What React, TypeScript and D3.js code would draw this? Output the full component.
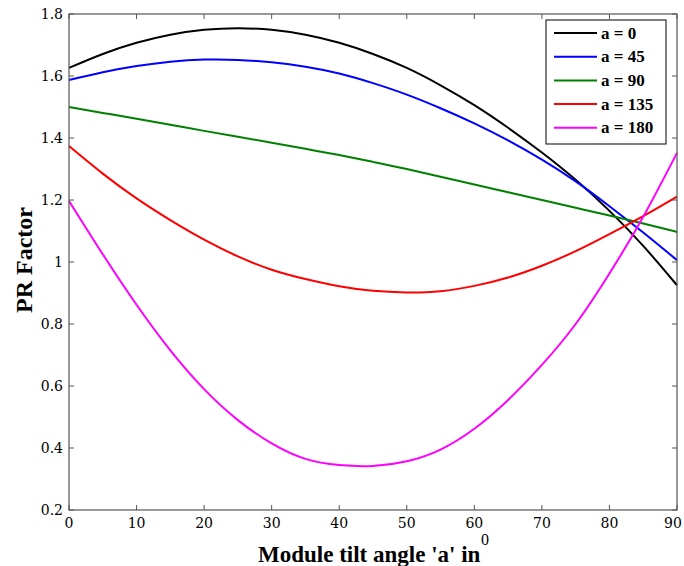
import React from "react";
import * as d3 from "d3";

const xAngles = [0, 5, 10, 15, 20, 25, 30, 35, 40, 45, 50, 55, 60, 65, 70, 75, 80, 85, 90];
const a0 = [1.626, 1.671, 1.707, 1.733, 1.749, 1.754, 1.749, 1.733, 1.707, 1.671, 1.626, 1.57, 1.506, 1.433, 1.353, 1.265, 1.165, 1.052, 0.925];
const a45 = [1.587, 1.612, 1.632, 1.646, 1.653, 1.652, 1.644, 1.63, 1.608, 1.577, 1.54, 1.496, 1.447, 1.392, 1.33, 1.26, 1.18, 1.095, 1.006];
const a90 = [1.5, 1.481, 1.462, 1.443, 1.423, 1.404, 1.385, 1.365, 1.345, 1.323, 1.3, 1.275, 1.25, 1.225, 1.2, 1.175, 1.15, 1.124, 1.097];
const a135 = [1.374, 1.285, 1.205, 1.135, 1.072, 1.018, 0.975, 0.945, 0.922, 0.907, 0.902, 0.906, 0.923, 0.95, 0.988, 1.035, 1.09, 1.148, 1.211];
const a180 = [1.197, 1.025, 0.862, 0.715, 0.59, 0.49, 0.415, 0.365, 0.345, 0.342, 0.357, 0.395, 0.462, 0.555, 0.668, 0.8, 0.963, 1.146, 1.352];

const seriesNames = ["a = 0", "a = 45", "a = 90", "a = 135", "a = 180"];
const seriesColors = ["#000000", "#0000ff", "#008000", "#ff0000", "#ff00ff"];
const seriesValues = [a0, a45, a90, a135, a180];

const xTicks = [0, 10, 20, 30, 40, 50, 60, 70, 80, 90];
const yTicks = [0.2, 0.4, 0.6, 0.8, 1, 1.2, 1.4, 1.6, 1.8];

const W = 684;
const H = 566;
const L = 69, R = 677, T = 14, B = 510;
const serif = "'Liberation Serif', 'DejaVu Serif', serif";
const tickFont = "'DejaVu Serif', serif";

export default function App() {
  const x = d3.scaleLinear().domain([0, 90]).range([L, R]);
  const y = d3.scaleLinear().domain([0.2, 1.8]).range([B, T]);
  const line = d3
    .line<number>()
    .x((_, i) => x(xAngles[i]))
    .y((d) => y(d))
    .curve(d3.curveNatural);
  const axisColor = "#555";
  const tl = 5;
  return (
    <svg width={W} height={H} style={{ position: "absolute", left: 0, top: 0, background: "#fff" }}>
      <rect x={0} y={0} width={W} height={H} fill="#fff" />
      {seriesValues.map((vals, i) => (
        <path key={i} d={line(vals) || ""} fill="none" stroke={seriesColors[i]} strokeWidth={2} />
      ))}
      <rect x={L} y={T} width={R - L} height={B - T} fill="none" stroke={axisColor} strokeWidth={1.2} />
      {xTicks.map((t) => (
        <g key={"x" + t}>
          <line x1={x(t)} x2={x(t)} y1={B} y2={B - tl} stroke={axisColor} />
          <line x1={x(t)} x2={x(t)} y1={T} y2={T + tl} stroke={axisColor} />
          <text x={Math.min(x(t), 673)} y={528} textAnchor="middle" fontFamily={tickFont} fontSize={14} fill="#000">
            {t}
          </text>
        </g>
      ))}
      {yTicks.map((t) => (
        <g key={"y" + t}>
          <line x1={L} x2={L + tl} y1={y(t)} y2={y(t)} stroke={axisColor} />
          <line x1={R} x2={R - tl} y1={y(t)} y2={y(t)} stroke={axisColor} />
          <text x={63} y={y(t) + 5} textAnchor="end" fontFamily={tickFont} fontSize={14} fill="#000">
            {String(t)}
          </text>
        </g>
      ))}
      <text x={258} y={562} textAnchor="start" fontFamily={serif} fontSize={23} fontWeight="bold" fill="#000">
        Module tilt angle 'a' in
      </text>
      <text x={481} y={545} textAnchor="start" fontFamily={serif} fontSize={16} fill="#000">
        0
      </text>
      <text
        transform={`translate(32, 260) rotate(-90)`}
        textAnchor="middle"
        fontFamily={serif}
        fontSize={24}
        fontWeight="bold"
        fill="#000"
      >
        PR Factor
      </text>
      <g>
        <rect x={546} y={20} width={120} height={124} fill="#fff" stroke="#000" strokeWidth={1} />
        {seriesNames.map((n, i) => {
          const yy = 33 + i * 23.7;
          return (
            <g key={n}>
              <line x1={554} x2={597} y1={yy} y2={yy} stroke={seriesColors[i]} strokeWidth={2} />
              <text x={601} y={yy + 5.5} fontFamily={serif} fontSize={17} fontWeight="bold" fill="#000">
                {n}
              </text>
            </g>
          );
        })}
      </g>
    </svg>
  );
}
